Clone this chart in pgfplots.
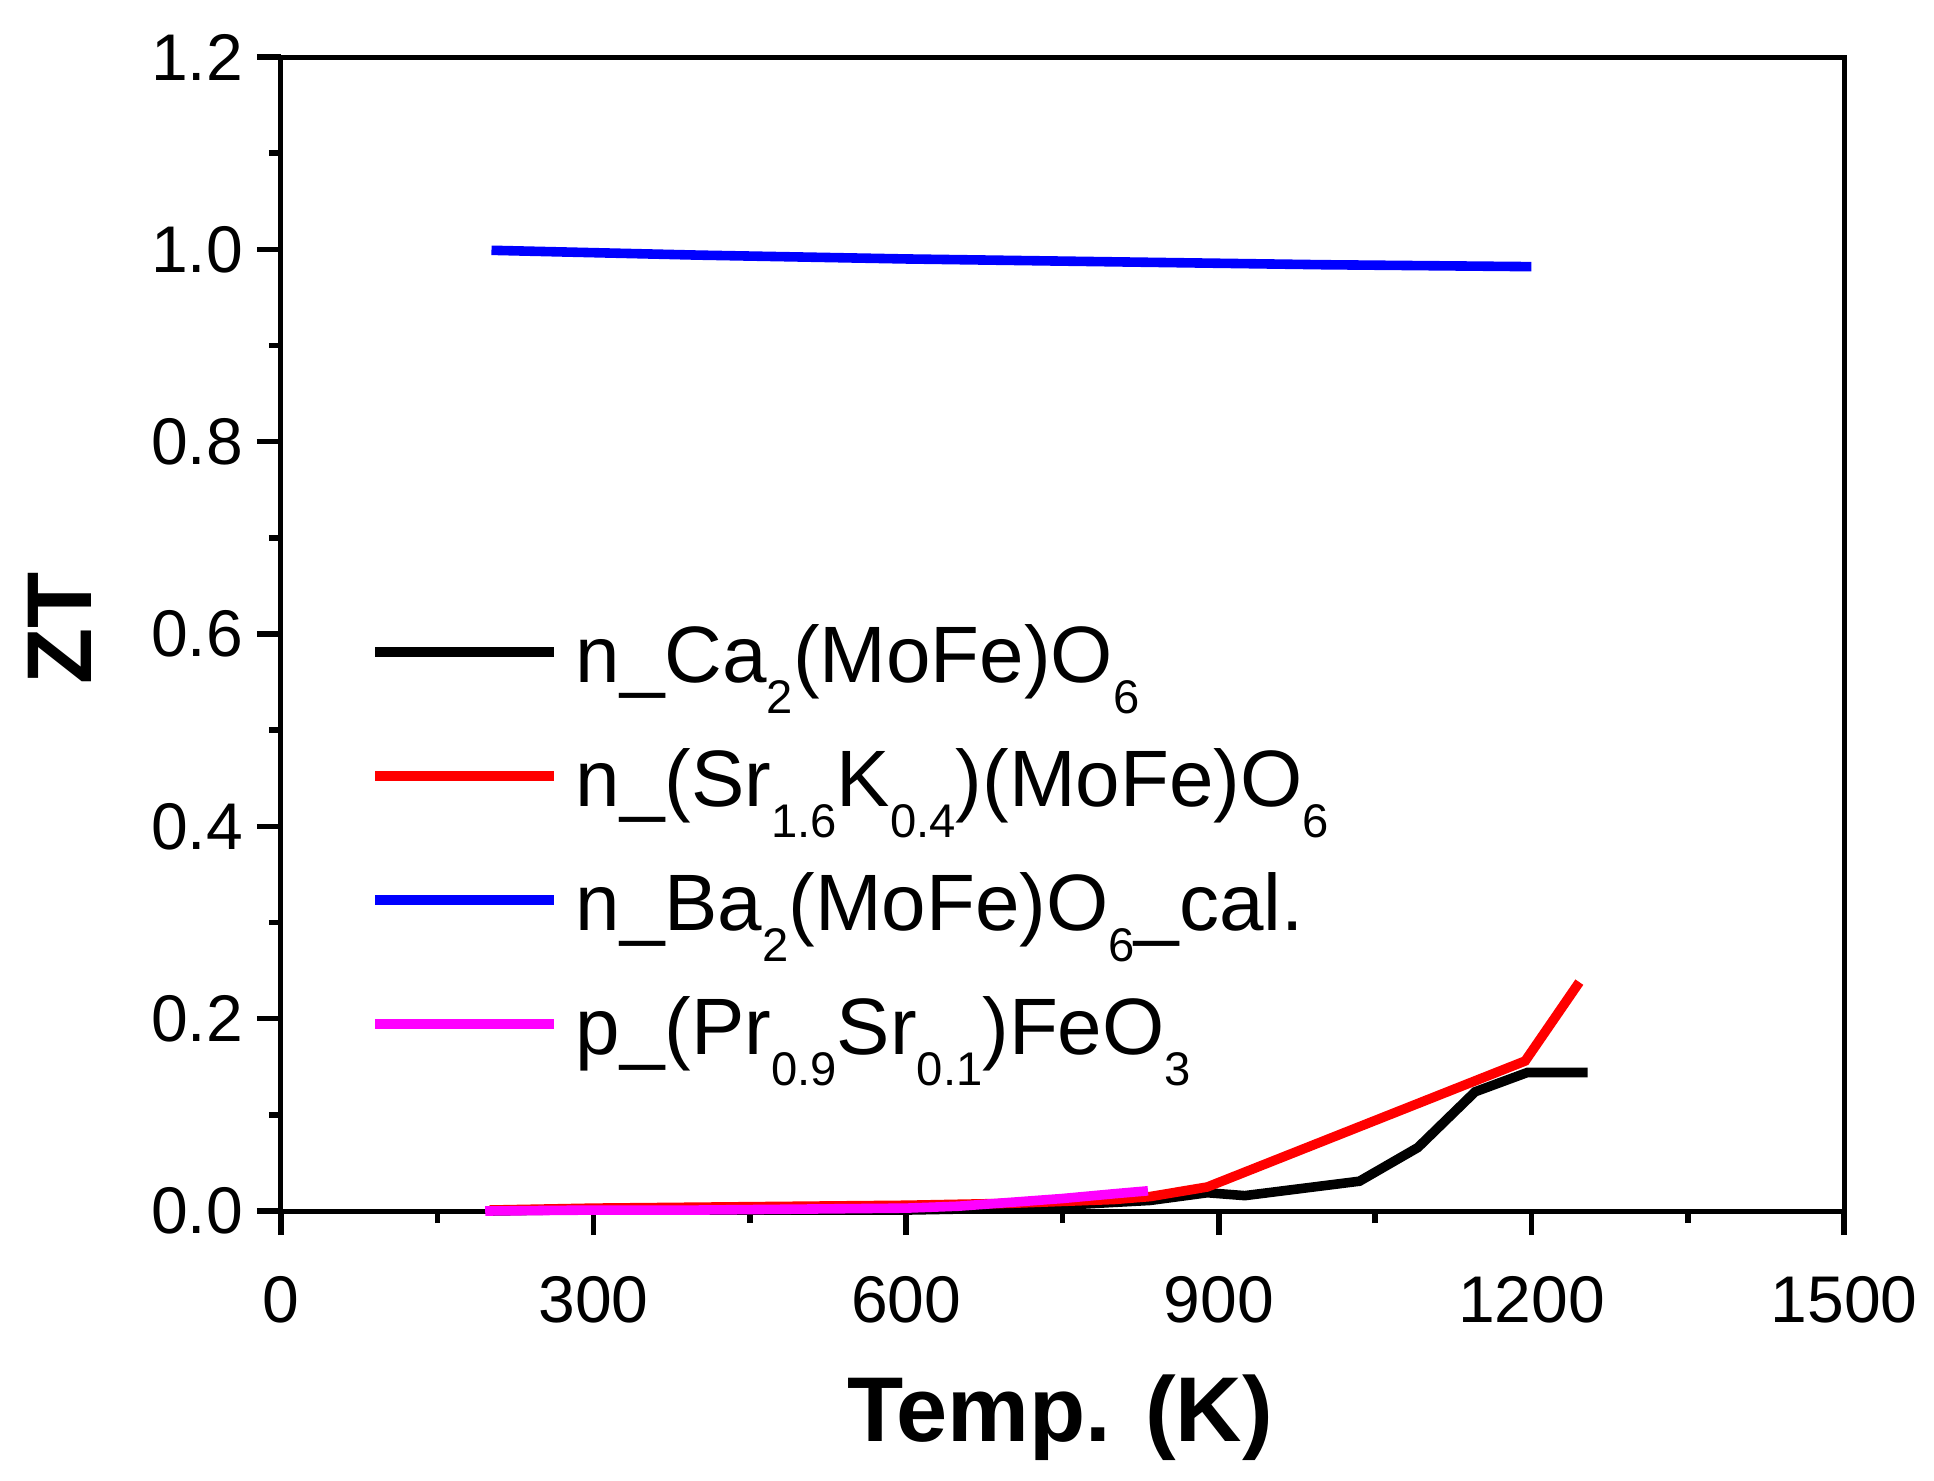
\documentclass[border=0pt]{standalone}
\usepackage{pgfplots}
\pgfplotsset{compat=1.18}
\usepackage{fontspec}
\setmainfont{Liberation Sans}
\definecolor{mymag}{RGB}{255,0,255}
\definecolor{myred}{RGB}{255,0,0}
\definecolor{myblue}{RGB}{0,0,255}
\newcommand\sub[1]{\raisebox{-7.8pt}{\fontsize{11.8}{12}\selectfont #1}}
\begin{document}
\begin{tikzpicture}
\path[use as bounding box] (-70.25pt,-67.25pt) rectangle (413.25pt,302.75pt);
\begin{axis}[
  scale only axis,
  width=390.75pt, height=288.5pt,
  at={(0,0)}, anchor=south west,
  xmin=0, xmax=1500, ymin=0, ymax=1.2,
  xtick={0,300,600,900,1200,1500},
  ytick={0,0.2,0.4,0.6,0.8,1.0,1.2},
  minor x tick num=1, minor y tick num=1,
  tick align=outside,
  xtick pos=bottom, ytick pos=left,
  major tick length=6pt, minor tick length=3pt,
  axis line style={line width=1.25pt},
  every tick/.style={black, line width=1.4pt},
  /pgf/number format/assume math mode=true,
  yticklabel style={/pgf/number format/fixed, /pgf/number format/precision=1, /pgf/number format/fixed zerofill},
  xticklabel style={/pgf/number format/1000 sep={}, yshift=-6.8pt},
  tick label style={font=\fontsize{16.5}{19}\selectfont},
  xlabel={Temp. (K)}, ylabel={ZT},
  label style={font=\fontsize{23}{27}\selectfont\bfseries},
  xlabel style={at={(axis description cs:0.4984,-0.1993)}, anchor=base},
  ylabel style={at={(axis description cs:-0.1415,0.505)}, anchor=center},
  clip=false,
  legend cell align=left,
  legend image code/.code={\draw[#1, line width=2.4pt] (0pt,7.2pt) -- (44.6pt,7.2pt);},
  legend style={draw=none, fill=none, inner sep=0pt, outer sep=0pt,
    at={(axis description cs:0.0572,0.5133)}, anchor=north west,
    font=\fontsize{20}{23}\selectfont,
    row sep=0pt, column sep=4.3pt,
    nodes={inner sep=0pt, text height=16pt, text depth=15pt}},
]
\addplot[black, line width=2.4pt] coordinates {(200,0.000)(260,0.001)(300,0.001)(400,0.001)(500,0.001)(600,0.001)(650,0.002)(700,0.004)(750,0.006)(800,0.009)(834,0.011)(889,0.019)(925,0.016)(1035,0.031)(1091,0.066)(1146,0.124)(1196,0.144)(1254,0.144)};
\addlegendentry{n\_Ca\sub{2}(MoFe)O\sub{6}}
\addplot[myred, line width=2.4pt] coordinates {(200,0.001)(300,0.003)(400,0.004)(500,0.005)(600,0.006)(700,0.008)(800,0.012)(834,0.015)(889,0.025)(1194,0.156)(1246,0.238)};
\addlegendentry{n\_(Sr\sub{1.6}K\sub{0.4})(MoFe)O\sub{6}}
\addplot[myblue, line width=2.4pt] coordinates {(202,0.999)(400,0.994)(600,0.990)(800,0.987)(1000,0.984)(1200,0.982)};
\addlegendentry{n\_Ba\sub{2}(MoFe)O\sub{6}\_cal.}
\addplot[mymag, line width=2.4pt] coordinates {(196,0.000)(300,0.001)(400,0.001)(500,0.002)(600,0.003)(650,0.005)(700,0.009)(750,0.013)(800,0.018)(832,0.021)};
\addlegendentry{p\_(Pr\sub{0.9}Sr\sub{0.1})FeO\sub{3}}
\end{axis}
\end{tikzpicture}
\end{document}
